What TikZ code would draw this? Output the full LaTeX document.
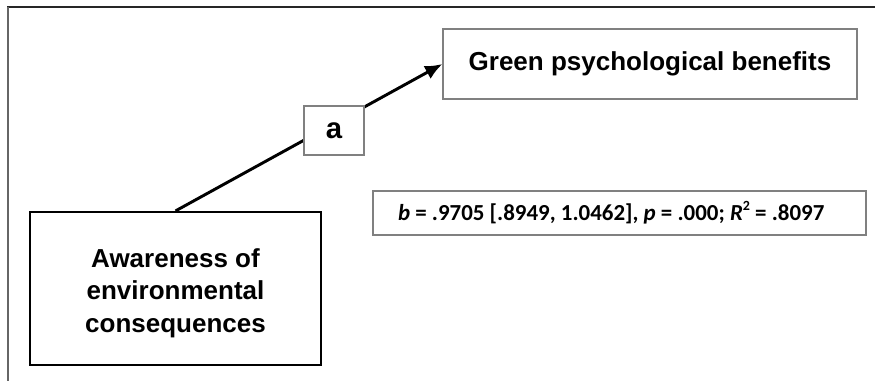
\documentclass[tikz,border=0pt]{standalone}
\usepackage{fontspec}
\setmainfont{Liberation Sans}
\newfontfamily\calibri{Carlito}
\usetikzlibrary{arrows.meta}
\newcommand\smallsup[1]{\raisebox{0.42em}{\fontsize{10.5}{10.5}\selectfont #1}}
\begin{document}
\begin{tikzpicture}[x=0.75pt,y=-0.75pt,
  thinbox/.style={draw=black!50,line width=0.9pt,fill=white,inner sep=0pt},
  thickbox/.style={draw=black,line width=1.6pt,fill=white,inner sep=0pt},
  varfont/.style={font=\fontsize{19.5}{24.5}\selectfont\bfseries},
  path/.style={line width=2.2pt,-{Latex[length=13pt,width=11pt]}}]
  \useasboundingbox (0,0) rectangle (875,381);
  % page frame, open at the right and the bottom
  \draw[line width=1.5pt,black!85] (7,7) -- (875,7);
  \draw[line width=1.5pt,black!60] (8,7) -- (8,381);
  % variables
  \node[thinbox,varfont,minimum width=310.5pt,minimum height=52.5pt]
    (green) at (650,64) {Green psychological benefits};
  \node[thickbox,minimum width=218.25pt,minimum height=114.75pt]
    (aware) at (175.5,288.5) {};
  \node[varfont,align=center,inner sep=0pt] (awaretext) at (175.5,293)
    {Awareness of\\environmental\\consequences};
  % path a
  \draw[path] (aware.north) -- (green.west);
  \node[thinbox,font=\fontsize{22}{24}\selectfont\bfseries,
    minimum width=45pt,minimum height=36.75pt] (a) at (334,130.5) {a};
  % regression result
  \node[thinbox,font=\calibri\fontsize{17.2}{20}\selectfont\bfseries,
    minimum width=369.75pt,minimum height=33pt] (stats) at (619.5,213)
    {\makebox[332.25pt][l]{\textit{b} = .9705 [.8949, 1.0462], \textit{p} = .000; \textit{R}\smallsup{2} = .8097}};
\end{tikzpicture}
\end{document}
